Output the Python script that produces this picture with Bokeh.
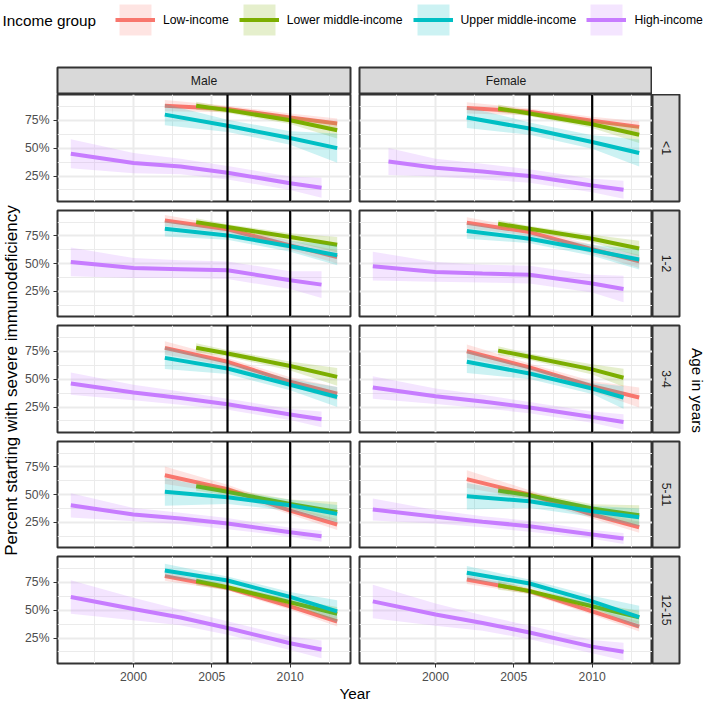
import math
from bokeh.plotting import figure
from bokeh.models import (Range1d, FixedTicker, LinearAxis, Grid, Span, Label,
                          Legend, LegendItem, ColumnDataSource, Spacer)
from bokeh.layouts import row, column
from bokeh.embed import file_html
from bokeh.resources import INLINE

# ---------------- data ----------------
SEXES = ["Male", "Female"]
AGES = ["<1", "1-2", "3-4", "5-11", "12-15"]
GROUPS = ["Low-income", "Lower middle-income", "Upper middle-income", "High-income"]
COLORS = ["#F8766D", "#7CAE00", "#00BFC4", "#C77CFF"]
POLICY_YEARS = [2006, 2010]
X_TICKS = [2000, 2005, 2010]
X_TICK_LABELS = ["2000", "2005", "2010"]
X_MINOR = [1997.5, 2002.5, 2007.5, 2012.5]
Y_TICKS = [0.25, 0.50, 0.75]
Y_TICK_LABELS = ["25%", "50%", "75%"]
Y_MINOR = [0.125, 0.375, 0.625, 0.875]

# (years, smoothed share, half-width of the confidence band)
LOW_INCOME = {
    ("Male", "<1"):      ([2002, 2006, 2010, 2013], [0.880, 0.850, 0.775, 0.720], [0.050, 0.030, 0.035, 0.045]),
    ("Female", "<1"):    ([2002, 2006, 2010, 2013], [0.860, 0.825, 0.745, 0.690], [0.050, 0.030, 0.035, 0.050]),
    ("Male", "1-2"):     ([2002, 2006, 2010, 2013], [0.890, 0.810, 0.665, 0.560], [0.050, 0.030, 0.040, 0.060]),
    ("Female", "1-2"):   ([2002, 2006, 2010, 2013], [0.870, 0.785, 0.630, 0.520], [0.050, 0.030, 0.040, 0.060]),
    ("Male", "3-4"):     ([2002, 2006, 2010, 2013], [0.780, 0.655, 0.476, 0.370], [0.060, 0.035, 0.040, 0.060]),
    ("Female", "3-4"):   ([2002, 2006, 2010, 2013], [0.750, 0.605, 0.437, 0.335], [0.060, 0.035, 0.045, 0.090]),
    ("Male", "5-11"):    ([2002, 2006, 2010, 2013], [0.675, 0.550, 0.355, 0.230], [0.080, 0.040, 0.035, 0.050]),
    ("Female", "5-11"):  ([2002, 2006, 2010, 2013], [0.640, 0.500, 0.320, 0.205], [0.080, 0.040, 0.035, 0.050]),
    ("Male", "12-15"):   ([2002, 2006, 2010, 2013], [0.804, 0.700, 0.534, 0.398], [0.040, 0.025, 0.030, 0.045]),
    ("Female", "12-15"): ([2002, 2006, 2010, 2013], [0.774, 0.670, 0.488, 0.353], [0.040, 0.025, 0.030, 0.045]),
}
LOWER_MIDDLE = {
    ("Male", "<1"):      ([2004, 2006, 2010, 2013], [0.879, 0.840, 0.750, 0.660], [0.035, 0.025, 0.035, 0.075]),
    ("Female", "<1"):    ([2004, 2006, 2010, 2013], [0.855, 0.810, 0.714, 0.620], [0.035, 0.025, 0.035, 0.075]),
    ("Male", "1-2"):     ([2004, 2006, 2010, 2013], [0.875, 0.830, 0.740, 0.670], [0.035, 0.025, 0.035, 0.070]),
    ("Female", "1-2"):   ([2004, 2006, 2010, 2013], [0.860, 0.815, 0.725, 0.636], [0.035, 0.025, 0.035, 0.070]),
    ("Male", "3-4"):     ([2004, 2006, 2010, 2013], [0.780, 0.730, 0.617, 0.520], [0.040, 0.030, 0.040, 0.080]),
    ("Female", "3-4"):   ([2004, 2006, 2010, 2012], [0.755, 0.700, 0.587, 0.512], [0.040, 0.030, 0.045, 0.080]),
    ("Male", "5-11"):    ([2004, 2006, 2010, 2013], [0.575, 0.525, 0.416, 0.344], [0.040, 0.030, 0.040, 0.090]),
    ("Female", "5-11"):  ([2004, 2006, 2010, 2013], [0.536, 0.494, 0.374, 0.313], [0.040, 0.030, 0.040, 0.090]),
    ("Male", "12-15"):   ([2004, 2006, 2010, 2013], [0.760, 0.705, 0.570, 0.467], [0.040, 0.025, 0.030, 0.060]),
    ("Female", "12-15"): ([2004, 2006, 2010, 2013], [0.723, 0.670, 0.534, 0.435], [0.040, 0.025, 0.030, 0.060]),
}
UPPER_MIDDLE = {
    ("Male", "<1"):      ([2002, 2006, 2010, 2013], [0.800, 0.700, 0.590, 0.500], [0.095, 0.055, 0.060, 0.130]),
    ("Female", "<1"):    ([2002, 2006, 2010, 2013], [0.774, 0.675, 0.555, 0.456], [0.095, 0.055, 0.060, 0.120]),
    ("Male", "1-2"):     ([2002, 2006, 2010, 2013], [0.815, 0.755, 0.657, 0.575], [0.070, 0.040, 0.050, 0.090]),
    ("Female", "1-2"):   ([2002, 2006, 2010, 2013], [0.795, 0.725, 0.620, 0.537], [0.070, 0.040, 0.050, 0.090]),
    ("Male", "3-4"):     ([2002, 2006, 2010, 2013], [0.690, 0.595, 0.450, 0.340], [0.100, 0.050, 0.050, 0.090]),
    ("Female", "3-4"):   ([2002, 2006, 2010, 2012], [0.655, 0.550, 0.416, 0.335], [0.100, 0.050, 0.050, 0.100]),
    ("Male", "5-11"):    ([2002, 2006, 2010, 2013], [0.525, 0.476, 0.403, 0.326], [0.125, 0.060, 0.050, 0.080]),
    ("Female", "5-11"):  ([2002, 2006, 2010, 2013], [0.485, 0.440, 0.350, 0.295], [0.120, 0.060, 0.050, 0.080]),
    ("Male", "12-15"):   ([2002, 2006, 2010, 2013], [0.855, 0.765, 0.618, 0.488], [0.060, 0.035, 0.045, 0.100]),
    ("Female", "12-15"): ([2002, 2006, 2010, 2013], [0.835, 0.738, 0.578, 0.438], [0.060, 0.035, 0.050, 0.100]),
}
HIGH_INCOME = {
    ("Male", "<1"):      ([1996, 2000, 2003, 2006, 2010, 2012], [0.450, 0.366, 0.335, 0.280, 0.186, 0.145], [0.130, 0.090, 0.070, 0.060, 0.060, 0.090]),
    ("Female", "<1"):    ([1997, 2000, 2003, 2006, 2010, 2012], [0.380, 0.325, 0.290, 0.250, 0.165, 0.127], [0.120, 0.080, 0.070, 0.060, 0.060, 0.080]),
    ("Male", "1-2"):     ([1996, 2000, 2003, 2006, 2010, 2012], [0.515, 0.460, 0.450, 0.440, 0.350, 0.310], [0.130, 0.090, 0.080, 0.080, 0.080, 0.120]),
    ("Female", "1-2"):   ([1996, 2000, 2003, 2006, 2010, 2012], [0.477, 0.425, 0.410, 0.400, 0.320, 0.270], [0.130, 0.090, 0.080, 0.080, 0.080, 0.120]),
    ("Male", "3-4"):     ([1996, 2000, 2003, 2006, 2010, 2012], [0.460, 0.380, 0.330, 0.275, 0.183, 0.140], [0.100, 0.070, 0.060, 0.050, 0.050, 0.070]),
    ("Female", "3-4"):   ([1996, 2000, 2003, 2006, 2010, 2012], [0.425, 0.347, 0.300, 0.245, 0.160, 0.116], [0.100, 0.070, 0.060, 0.050, 0.050, 0.070]),
    ("Male", "5-11"):    ([1996, 2000, 2003, 2006, 2010, 2012], [0.403, 0.320, 0.285, 0.238, 0.160, 0.124], [0.110, 0.060, 0.050, 0.050, 0.040, 0.050]),
    ("Female", "5-11"):  ([1996, 2000, 2003, 2006, 2010, 2012], [0.365, 0.300, 0.255, 0.214, 0.140, 0.103], [0.100, 0.060, 0.050, 0.050, 0.040, 0.050]),
    ("Male", "12-15"):   ([1996, 2000, 2003, 2006, 2010, 2012], [0.618, 0.510, 0.434, 0.340, 0.203, 0.148], [0.150, 0.100, 0.070, 0.060, 0.060, 0.080]),
    ("Female", "12-15"): ([1996, 2000, 2003, 2006, 2010, 2012], [0.578, 0.460, 0.385, 0.300, 0.173, 0.128], [0.150, 0.100, 0.070, 0.060, 0.060, 0.080]),
}
SERIES = [LOW_INCOME, LOWER_MIDDLE, UPPER_MIDDLE, HIGH_INCOME]

# ---------------- style / layout ----------------
FONT = "Liberation Sans"
TEXT_SIZE = "12.2px"
TITLE_SIZE = "15.3px"
Y_TITLE_SIZE = "17px"
X_RANGE = (1995.15, 2013.85)
Y_RANGE = (0.022, 0.980)
PANEL_W = 293
PANEL_H = [107, 106, 107, 106, 107]
GAP_TOP = [0, 5, 5, 5, 5]
GAP_BOTTOM = [4, 4, 4, 4, 21]
LEFT_AXIS_W = 36
STRIP_W = 27
LEGEND_H = 65
GRID = "#EBEBEB"
BORDER = "#333333"
STRIP_FILL = "#D9D9D9"


def base_fig(width, height, **kw):
    p = figure(width=width, height=height, x_axis_type=None, y_axis_type=None,
               toolbar_location=None, output_backend="svg", title=None,
               min_border_left=kw.pop("ml", 0), min_border_right=kw.pop("mr", 0),
               min_border_top=kw.pop("mt", 0), min_border_bottom=kw.pop("mb", 0),
               **kw)
    p.outline_line_color = None
    return p


def axis_style():
    return dict(axis_line_color=None, major_tick_line_color=BORDER,
                major_tick_line_width=1, major_tick_out=4, major_tick_in=0,
                minor_tick_line_color=None, major_label_standoff=4,
                major_label_text_font=FONT, major_label_text_font_size=TEXT_SIZE,
                major_label_text_color="#4D4D4D")


def band_source(data, key):
    yrs, fit, hw = data[key]
    return ColumnDataSource(dict(x=yrs, fit=fit,
                                 lo=[f - h for f, h in zip(fit, hw)],
                                 hi=[f + h for f, h in zip(fit, hw)]))


def make_panel(sex, age, r, c):
    ml = LEFT_AXIS_W if c == 0 else 5
    mr = 4 if c == 0 else 0
    h = GAP_TOP[r] + PANEL_H[r] + GAP_BOTTOM[r]
    p = base_fig(ml + PANEL_W + mr, h, ml=ml, mr=mr, mt=GAP_TOP[r], mb=GAP_BOTTOM[r],
                 x_range=Range1d(*X_RANGE), y_range=Range1d(*Y_RANGE))
    p.outline_line_color = BORDER
    p.outline_line_width = 2
    p.add_layout(Grid(dimension=0, ticker=FixedTicker(ticks=X_TICKS, minor_ticks=X_MINOR),
                      grid_line_color=GRID, grid_line_width=2,
                      minor_grid_line_color=GRID, minor_grid_line_width=1))
    p.add_layout(Grid(dimension=1, ticker=FixedTicker(ticks=Y_TICKS, minor_ticks=Y_MINOR),
                      grid_line_color=GRID, grid_line_width=2,
                      minor_grid_line_color=GRID, minor_grid_line_width=1))
    if c == 0:
        p.add_layout(LinearAxis(ticker=FixedTicker(ticks=Y_TICKS),
                                major_label_overrides=dict(zip(Y_TICKS, Y_TICK_LABELS)),
                                **axis_style()), "left")
    if r == len(AGES) - 1:
        p.add_layout(LinearAxis(ticker=FixedTicker(ticks=X_TICKS),
                                major_label_overrides=dict(zip(X_TICKS, X_TICK_LABELS)),
                                **axis_style()), "below")
    for data, color in zip(SERIES, COLORS):
        src = band_source(data, (sex, age))
        p.varea(x="x", y1="lo", y2="hi", source=src, fill_color=color, fill_alpha=0.2)
        p.line(x="x", y="fit", source=src, line_color=color, line_width=4)
    for v in POLICY_YEARS:
        p.add_layout(Span(location=v, dimension="height", line_color="black", line_width=2.2))
    return p


def make_right_strip(age, r):
    h = GAP_TOP[r] + PANEL_H[r] + GAP_BOTTOM[r]
    s = base_fig(STRIP_W + 2, h, mr=2, mt=GAP_TOP[r], mb=GAP_BOTTOM[r],
                 x_range=Range1d(0, 1), y_range=Range1d(0, 1))
    s.background_fill_color = STRIP_FILL
    s.outline_line_color = BORDER
    s.outline_line_width = 2
    s.add_layout(Label(x=0.5, y=0.5, text=age, angle=-math.pi / 2, text_align="center",
                       text_baseline="middle", text_font=FONT, text_font_size=TEXT_SIZE,
                       text_color="#1A1A1A"))
    return s


def make_top_strip(sex, c):
    ml = LEFT_AXIS_W if c == 0 else 5
    mr = 4 if c == 0 else 0
    s = base_fig(ml + PANEL_W + mr, 29, ml=ml, mr=mr, mt=2,
                 x_range=Range1d(0, 1), y_range=Range1d(0, 1))
    s.background_fill_color = STRIP_FILL
    s.outline_line_color = BORDER
    s.outline_line_width = 2
    s.add_layout(Label(x=0.5, y=0.5, text=sex, text_align="center",
                       text_baseline="middle", text_font=FONT, text_font_size=TEXT_SIZE,
                       text_color="#1A1A1A"))
    return s


# legend: its renderers hold real series but lie outside this strip's ranges
leg_fig = base_fig(709, LEGEND_H, x_range=Range1d(0, 1), y_range=Range1d(0, 1))
items = []
for g, color, data in zip(GROUPS, COLORS, SERIES):
    src = band_source(data, ("Male", "<1"))
    va = leg_fig.varea(x="x", y1="lo", y2="hi", source=src, fill_color=color, fill_alpha=0.2)
    ln = leg_fig.line(x="x", y="fit", source=src, line_color=color, line_width=4)
    items.append(LegendItem(label=g, renderers=[va, ln]))
legend = Legend(items=items, orientation="horizontal", location=(115, 26),
                padding=0, margin=0, spacing=10, label_standoff=8,
                glyph_width=40, glyph_height=39, label_height=39,
                label_text_font=FONT, label_text_font_size=TEXT_SIZE,
                label_text_color="#000000", label_text_baseline="middle",
                border_line_color=None, background_fill_alpha=0)
leg_fig.add_layout(legend)
leg_fig.add_layout(Label(x=2, y=LEGEND_H - 20, x_units="screen", y_units="screen",
                         text="Income group", text_baseline="middle", text_font=FONT,
                         text_font_size=TITLE_SIZE, text_color="#000000"))

strip_row = row(make_top_strip(SEXES[0], 0), make_top_strip(SEXES[1], 1),
                Spacer(width=STRIP_W + 2, height=29))

panel_rows = []
for r, age in enumerate(AGES):
    panel_rows.append(row(make_panel(SEXES[0], age, r, 0),
                          make_panel(SEXES[1], age, r, 1),
                          make_right_strip(age, r)))

grid_w = LEFT_AXIS_W + PANEL_W + 4 + 5 + PANEL_W + STRIP_W + 2
used_h = LEGEND_H + 29 + sum(GAP_TOP) + sum(PANEL_H) + sum(GAP_BOTTOM)
year_h = 702 - used_h
year_fig = base_fig(grid_w, year_h, x_range=Range1d(0, 1), y_range=Range1d(0, 1))
year_fig.add_layout(Label(x=333.5, y=year_h / 2, x_units="screen", y_units="screen",
                          text="Year", text_align="center", text_baseline="middle",
                          text_font=FONT, text_font_size=TITLE_SIZE, text_color="#000000"))

grid_col = column(strip_row, *panel_rows, year_fig)

main_h = 702 - LEGEND_H
left_fig = base_fig(21, main_h, x_range=Range1d(0, 1), y_range=Range1d(0, 1))
left_fig.add_layout(Label(x=11, y=702 - 380, x_units="screen", y_units="screen",
                          text="Percent starting with severe immunodeficiency",
                          angle=math.pi / 2, text_align="center", text_baseline="middle",
                          text_font=FONT, text_font_size=Y_TITLE_SIZE, text_color="#000000"))
right_fig = base_fig(709 - 21 - grid_w, main_h, x_range=Range1d(0, 1), y_range=Range1d(0, 1))
right_fig.add_layout(Label(x=16, y=702 - 390, x_units="screen", y_units="screen",
                           text="Age in years", angle=-math.pi / 2, text_align="center",
                           text_baseline="middle", text_font=FONT, text_font_size=TITLE_SIZE,
                           text_color="#000000"))

root = column(leg_fig, row(left_fig, grid_col, right_fig))
root.styles = {"position": "absolute", "left": "0px", "top": "0px"}

open("out.html", "w").write(file_html(root, INLINE))
